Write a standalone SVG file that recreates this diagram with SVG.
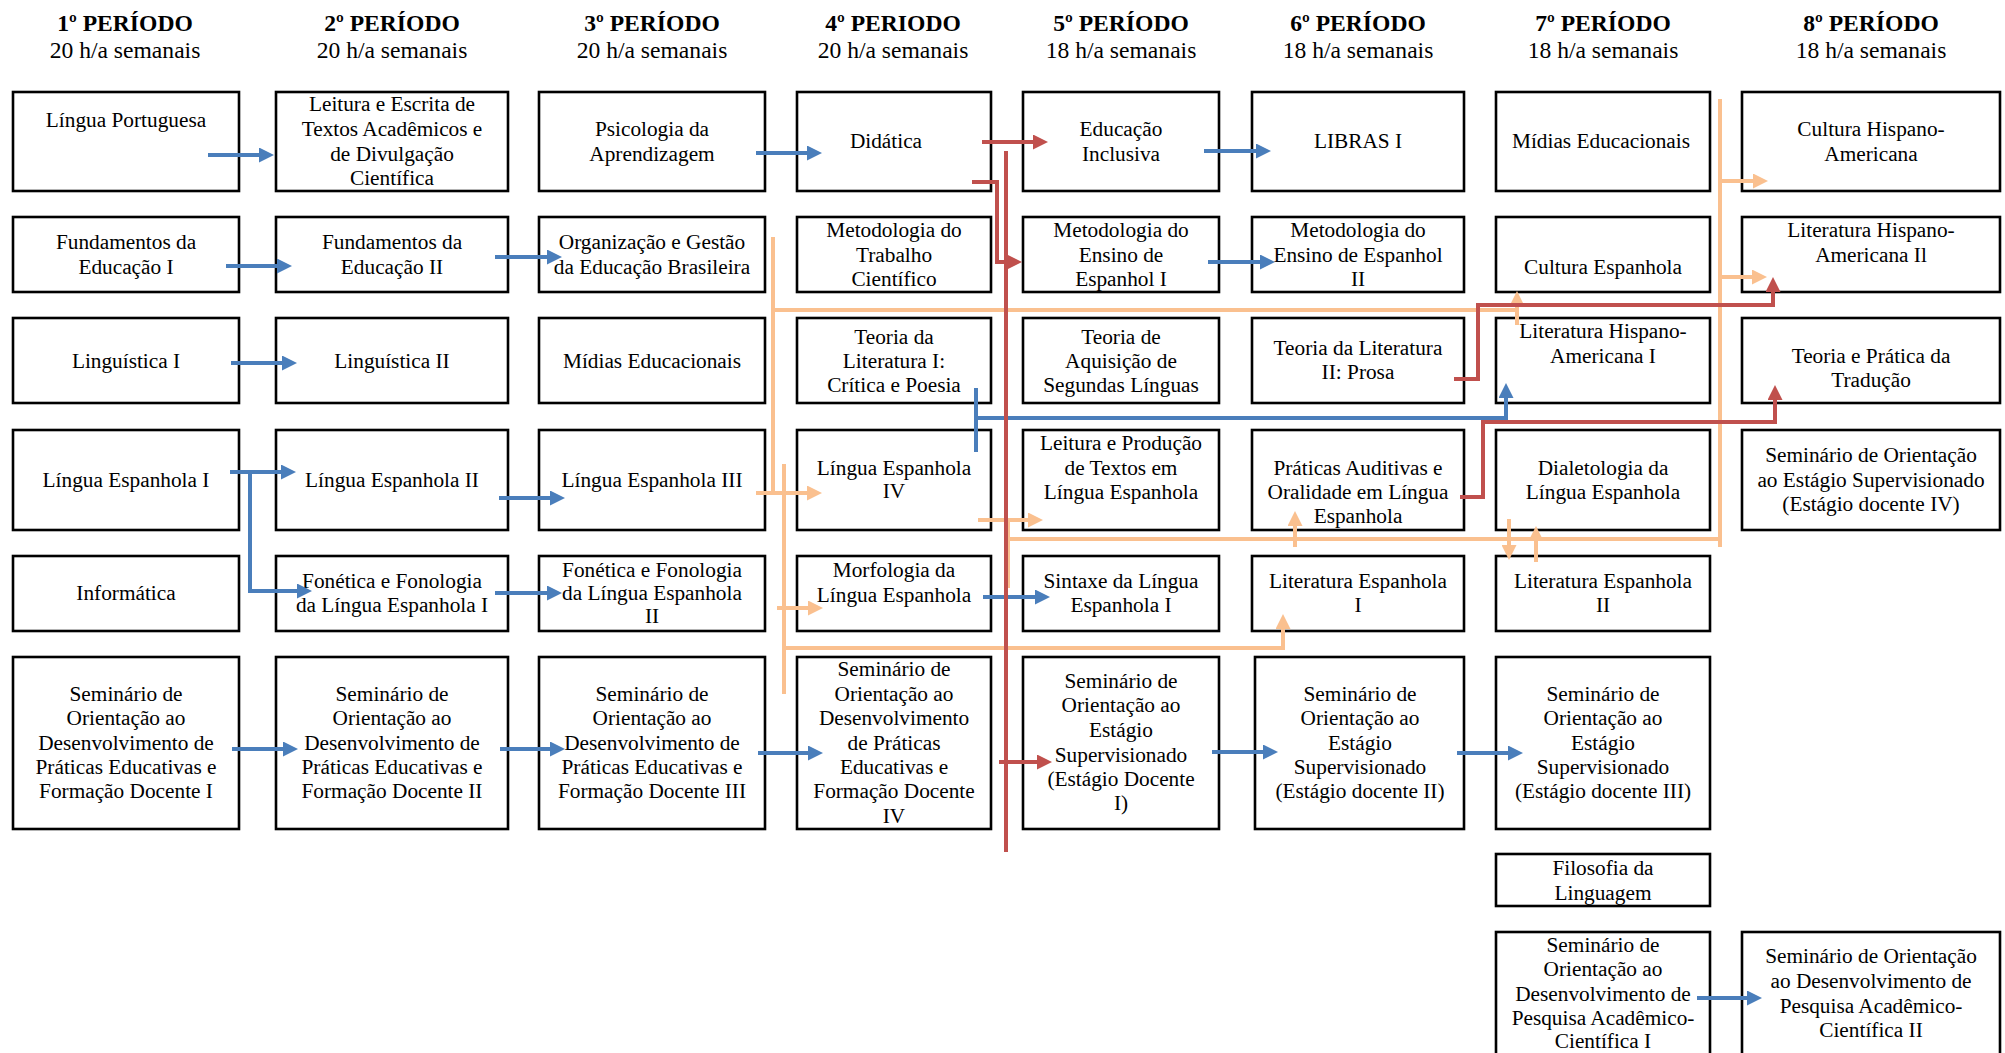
<svg xmlns="http://www.w3.org/2000/svg" width="2005" height="1053" viewBox="0 0 2005 1053">
<style>
text{font-family:"Liberation Serif","Times New Roman",serif;fill:#000}
.h{font-size:23.6px;font-weight:bold;text-anchor:middle}
.s{font-size:23.6px;text-anchor:middle}
.t{font-size:21.3px;text-anchor:middle}
.box{fill:#fff;stroke:#000;stroke-width:2.6}
.b{fill:none;stroke:#4A7EBB;stroke-width:4}
.r{fill:none;stroke:#C0504D;stroke-width:4}
.o{fill:none;stroke:#FAC08F;stroke-width:4}
.ba{marker-end:url(#mb)}
.ra{marker-end:url(#mr)}
.oa{marker-end:url(#mo)}
</style>
<defs>
<marker id="mb" markerUnits="userSpaceOnUse" markerWidth="15" markerHeight="15" viewBox="0 0 15 15" refX="4" refY="7.5" orient="auto"><path d="M0,0L15,7.5L0,15z" fill="#4A7EBB"/></marker>
<marker id="mr" markerUnits="userSpaceOnUse" markerWidth="15" markerHeight="15" viewBox="0 0 15 15" refX="4" refY="7.5" orient="auto"><path d="M0,0L15,7.5L0,15z" fill="#C0504D"/></marker>
<marker id="mo" markerUnits="userSpaceOnUse" markerWidth="15" markerHeight="15" viewBox="0 0 15 15" refX="4" refY="7.5" orient="auto"><path d="M0,0L15,7.5L0,15z" fill="#FAC08F"/></marker>
</defs>
<rect width="2005" height="1053" fill="#fff"/>
<g id="headers">
<text class="h" x="125" y="31">1º PERÍODO</text><text class="s" x="125" y="58">20 h/a semanais</text>
<text class="h" x="392" y="31">2º PERÍODO</text><text class="s" x="392" y="58">20 h/a semanais</text>
<text class="h" x="652" y="31">3º PERÍODO</text><text class="s" x="652" y="58">20 h/a semanais</text>
<text class="h" x="893" y="31">4º PERIODO</text><text class="s" x="893" y="58">20 h/a semanais</text>
<text class="h" x="1121" y="31">5º PERÍODO</text><text class="s" x="1121" y="58">18 h/a semanais</text>
<text class="h" x="1358" y="31">6º PERÍODO</text><text class="s" x="1358" y="58">18 h/a semanais</text>
<text class="h" x="1603" y="31">7º PERÍODO</text><text class="s" x="1603" y="58">18 h/a semanais</text>
<text class="h" x="1871" y="31">8º PERÍODO</text><text class="s" x="1871" y="58">18 h/a semanais</text>
</g>
<g id="nodes">
<!-- Row 1 -->
<g id="n-lp"><rect class="box" x="13" y="92" width="226" height="99"/><text class="t" x="126" y="127">Língua Portuguesa</text></g>
<g id="n-leitura"><rect class="box" x="276" y="92" width="232" height="99"/><text class="t"><tspan x="392" y="111">Leitura e Escrita de</tspan><tspan x="392" y="136">Textos Acadêmicos e</tspan><tspan x="392" y="161">de Divulgação</tspan><tspan x="392" y="185">Científica</tspan></text></g>
<g id="n-psico"><rect class="box" x="539" y="92" width="226" height="99"/><text class="t"><tspan x="652" y="136">Psicologia da</tspan><tspan x="652" y="161">Aprendizagem</tspan></text></g>
<g id="n-didatica"><rect class="box" x="797" y="92" width="194" height="99"/><text class="t" x="886" y="148">Didática</text></g>
<g id="n-edinc"><rect class="box" x="1023" y="92" width="196" height="99"/><text class="t"><tspan x="1121" y="136">Educação</tspan><tspan x="1121" y="161">Inclusiva</tspan></text></g>
<g id="n-libras"><rect class="box" x="1252" y="92" width="212" height="99"/><text class="t" x="1358" y="148">LIBRAS I</text></g>
<g id="n-midias7"><rect class="box" x="1496" y="92" width="214" height="99"/><text class="t" x="1601" y="148">Mídias Educacionais</text></g>
<g id="n-culthisp"><rect class="box" x="1742" y="92" width="258" height="99"/><text class="t"><tspan x="1871" y="136">Cultura Hispano-</tspan><tspan x="1871" y="161">Americana</tspan></text></g>
<!-- Row 2 -->
<g id="n-fund1"><rect class="box" x="13" y="217" width="226" height="75"/><text class="t"><tspan x="126" y="249">Fundamentos da</tspan><tspan x="126" y="274">Educação I</tspan></text></g>
<g id="n-fund2"><rect class="box" x="276" y="217" width="232" height="75"/><text class="t"><tspan x="392" y="249">Fundamentos da</tspan><tspan x="392" y="274">Educação II</tspan></text></g>
<g id="n-org"><rect class="box" x="539" y="217" width="226" height="75"/><text class="t"><tspan x="652" y="249">Organização e Gestão</tspan><tspan x="652" y="274">da Educação Brasileira</tspan></text></g>
<g id="n-mtc"><rect class="box" x="797" y="217" width="194" height="75"/><text class="t"><tspan x="894" y="237">Metodologia do</tspan><tspan x="894" y="262">Trabalho</tspan><tspan x="894" y="286">Científico</tspan></text></g>
<g id="n-mee1"><rect class="box" x="1023" y="217" width="196" height="75"/><text class="t"><tspan x="1121" y="237">Metodologia do</tspan><tspan x="1121" y="262">Ensino de</tspan><tspan x="1121" y="286">Espanhol I</tspan></text></g>
<g id="n-mee2"><rect class="box" x="1252" y="217" width="212" height="75"/><text class="t"><tspan x="1358" y="237">Metodologia do</tspan><tspan x="1358" y="262">Ensino de Espanhol</tspan><tspan x="1358" y="286">II</tspan></text></g>
<g id="n-cultesp"><rect class="box" x="1496" y="217" width="214" height="75"/><text class="t" x="1603" y="274">Cultura Espanhola</text></g>
<g id="n-lithisp2"><rect class="box" x="1742" y="217" width="258" height="75"/><text class="t"><tspan x="1871" y="237">Literatura Hispano-</tspan><tspan x="1871" y="262">Americana Il</tspan></text></g>
<!-- Row 3 -->
<g id="n-ling1"><rect class="box" x="13" y="318" width="226" height="85"/><text class="t" x="126" y="368">Linguística I</text></g>
<g id="n-ling2"><rect class="box" x="276" y="318" width="232" height="85"/><text class="t" x="392" y="368">Linguística II</text></g>
<g id="n-midias3"><rect class="box" x="539" y="318" width="226" height="85"/><text class="t" x="652" y="368">Mídias Educacionais</text></g>
<g id="n-tl1"><rect class="box" x="797" y="318" width="194" height="85"/><text class="t"><tspan x="894" y="344">Teoria da</tspan><tspan x="894" y="368">Literatura I:</tspan><tspan x="894" y="392">Crítica e Poesia</tspan></text></g>
<g id="n-tasl"><rect class="box" x="1023" y="318" width="196" height="85"/><text class="t"><tspan x="1121" y="344">Teoria de</tspan><tspan x="1121" y="368">Aquisição de</tspan><tspan x="1121" y="392">Segundas Línguas</tspan></text></g>
<g id="n-tl2"><rect class="box" x="1252" y="318" width="212" height="85"/><text class="t"><tspan x="1358" y="355">Teoria da Literatura</tspan><tspan x="1358" y="379">II: Prosa</tspan></text></g>
<g id="n-lithisp1"><rect class="box" x="1496" y="318" width="214" height="85"/><text class="t"><tspan x="1603" y="338">Literatura Hispano-</tspan><tspan x="1603" y="363">Americana I</tspan></text></g>
<g id="n-trad"><rect class="box" x="1742" y="318" width="258" height="85"/><text class="t"><tspan x="1871" y="363">Teoria e Prática da</tspan><tspan x="1871" y="387">Tradução</tspan></text></g>
<!-- Row 4 -->
<g id="n-le1"><rect class="box" x="13" y="430" width="226" height="100"/><text class="t" x="126" y="487">Língua Espanhola I</text></g>
<g id="n-le2"><rect class="box" x="276" y="430" width="232" height="100"/><text class="t" x="392" y="487">Língua Espanhola II</text></g>
<g id="n-le3"><rect class="box" x="539" y="430" width="226" height="100"/><text class="t" x="652" y="487">Língua Espanhola III</text></g>
<g id="n-le4"><rect class="box" x="797" y="430" width="194" height="100"/><text class="t"><tspan x="894" y="475">Língua Espanhola</tspan><tspan x="894" y="498">IV</tspan></text></g>
<g id="n-lpt"><rect class="box" x="1023" y="430" width="196" height="100"/><text class="t"><tspan x="1121" y="450">Leitura e Produção</tspan><tspan x="1121" y="475">de Textos em</tspan><tspan x="1121" y="499">Língua Espanhola</tspan></text></g>
<g id="n-pao"><rect class="box" x="1252" y="430" width="212" height="100"/><text class="t"><tspan x="1358" y="475">Práticas Auditivas e</tspan><tspan x="1358" y="499">Oralidade em Língua</tspan><tspan x="1358" y="523">Espanhola</tspan></text></g>
<g id="n-dial"><rect class="box" x="1496" y="430" width="214" height="100"/><text class="t"><tspan x="1603" y="475">Dialetologia da</tspan><tspan x="1603" y="499">Língua Espanhola</tspan></text></g>
<g id="n-ses4"><rect class="box" x="1742" y="430" width="258" height="100"/><text class="t"><tspan x="1871" y="462">Seminário de Orientação</tspan><tspan x="1871" y="487">ao Estágio Supervisionado</tspan><tspan x="1871" y="511">(Estágio docente IV)</tspan></text></g>
<!-- Row 5 -->
<g id="n-info"><rect class="box" x="13" y="556" width="226" height="75"/><text class="t" x="126" y="600">Informática</text></g>
<g id="n-fon1"><rect class="box" x="276" y="556" width="232" height="75"/><text class="t"><tspan x="392" y="588">Fonética e Fonologia</tspan><tspan x="392" y="612">da Língua Espanhola I</tspan></text></g>
<g id="n-fon2"><rect class="box" x="539" y="556" width="226" height="75"/><text class="t"><tspan x="652" y="577">Fonética e Fonologia</tspan><tspan x="652" y="600">da Língua Espanhola</tspan><tspan x="652" y="623">II</tspan></text></g>
<g id="n-morf"><rect class="box" x="797" y="556" width="194" height="75"/><text class="t"><tspan x="894" y="577">Morfologia da</tspan><tspan x="894" y="602">Língua Espanhola</tspan></text></g>
<g id="n-sint"><rect class="box" x="1023" y="556" width="196" height="75"/><text class="t"><tspan x="1121" y="588">Sintaxe da Língua</tspan><tspan x="1121" y="612">Espanhola I</tspan></text></g>
<g id="n-litesp1"><rect class="box" x="1252" y="556" width="212" height="75"/><text class="t"><tspan x="1358" y="588">Literatura Espanhola</tspan><tspan x="1358" y="612">I</tspan></text></g>
<g id="n-litesp2"><rect class="box" x="1496" y="556" width="214" height="75"/><text class="t"><tspan x="1603" y="588">Literatura Espanhola</tspan><tspan x="1603" y="612">II</tspan></text></g>
<!-- Row 6 -->
<g id="n-sem1"><rect class="box" x="13" y="657" width="226" height="172"/><text class="t"><tspan x="126" y="701">Seminário de</tspan><tspan x="126" y="725">Orientação ao</tspan><tspan x="126" y="750">Desenvolvimento de</tspan><tspan x="126" y="774">Práticas Educativas e</tspan><tspan x="126" y="798">Formação Docente I</tspan></text></g>
<g id="n-sem2"><rect class="box" x="276" y="657" width="232" height="172"/><text class="t"><tspan x="392" y="701">Seminário de</tspan><tspan x="392" y="725">Orientação ao</tspan><tspan x="392" y="750">Desenvolvimento de</tspan><tspan x="392" y="774">Práticas Educativas e</tspan><tspan x="392" y="798">Formação Docente II</tspan></text></g>
<g id="n-sem3"><rect class="box" x="539" y="657" width="226" height="172"/><text class="t"><tspan x="652" y="701">Seminário de</tspan><tspan x="652" y="725">Orientação ao</tspan><tspan x="652" y="750">Desenvolvimento de</tspan><tspan x="652" y="774">Práticas Educativas e</tspan><tspan x="652" y="798">Formação Docente III</tspan></text></g>
<g id="n-sem4"><rect class="box" x="797" y="657" width="194" height="172"/><text class="t"><tspan x="894" y="676">Seminário de</tspan><tspan x="894" y="701">Orientação ao</tspan><tspan x="894" y="725">Desenvolvimento</tspan><tspan x="894" y="750">de Práticas</tspan><tspan x="894" y="774">Educativas e</tspan><tspan x="894" y="798">Formação Docente</tspan><tspan x="894" y="823">IV</tspan></text></g>
<g id="n-est1"><rect class="box" x="1023" y="657" width="196" height="172"/><text class="t"><tspan x="1121" y="688">Seminário de</tspan><tspan x="1121" y="712">Orientação ao</tspan><tspan x="1121" y="737">Estágio</tspan><tspan x="1121" y="762">Supervisionado</tspan><tspan x="1121" y="786">(Estágio Docente</tspan><tspan x="1121" y="810">I)</tspan></text></g>
<g id="n-est2"><rect class="box" x="1255" y="657" width="209" height="172"/><text class="t"><tspan x="1360" y="701">Seminário de</tspan><tspan x="1360" y="725">Orientação ao</tspan><tspan x="1360" y="750">Estágio</tspan><tspan x="1360" y="774">Supervisionado</tspan><tspan x="1360" y="798">(Estágio docente II)</tspan></text></g>
<g id="n-est3"><rect class="box" x="1496" y="657" width="214" height="172"/><text class="t"><tspan x="1603" y="701">Seminário de</tspan><tspan x="1603" y="725">Orientação ao</tspan><tspan x="1603" y="750">Estágio</tspan><tspan x="1603" y="774">Supervisionado</tspan><tspan x="1603" y="798">(Estágio docente III)</tspan></text></g>
<!-- Rows 7-8 -->
<g id="n-filo"><rect class="box" x="1496" y="854" width="214" height="52"/><text class="t"><tspan x="1603" y="875">Filosofia da</tspan><tspan x="1603" y="900">Linguagem</tspan></text></g>
<g id="n-pesq1"><rect class="box" x="1496" y="932" width="214" height="130"/><text class="t"><tspan x="1603" y="952">Seminário de</tspan><tspan x="1603" y="976">Orientação ao</tspan><tspan x="1603" y="1001">Desenvolvimento de</tspan><tspan x="1603" y="1025">Pesquisa Acadêmico-</tspan><tspan x="1603" y="1048">Científica I</tspan></text></g>
<g id="n-pesq2"><rect class="box" x="1742" y="932" width="258" height="130"/><text class="t"><tspan x="1871" y="963">Seminário de Orientação</tspan><tspan x="1871" y="988">ao Desenvolvimento de</tspan><tspan x="1871" y="1013">Pesquisa Acadêmico-</tspan><tspan x="1871" y="1037">Científica II</tspan></text></g>
</g>
<g id="connectors">
<!-- orange -->
<path class="o oa" d="M756,493H811"/>
<path class="o" d="M773,237V493"/>
<path class="o oa" d="M773,310H1517V302"/>
<path class="o" d="M1517,310V325"/>
<path class="o" d="M784,464V694"/>
<path class="o oa" d="M777,608H812"/>
<path class="o oa" d="M784,648H1283V625"/>
<path class="o oa" d="M978,520H1032"/>
<path class="o" d="M1008,520V588M1008,539H1720"/>
<path class="o oa" d="M1295,547V522"/>
<path class="o oa" d="M1509,519V549"/>
<path class="o oa" d="M1536,562V537"/>
<path class="o" d="M1720,99V547"/>
<path class="o oa" d="M1720,181H1757"/>
<path class="o oa" d="M1720,277H1756"/>
<!-- blue -->
<path class="b ba" d="M208,155H263"/>
<path class="b ba" d="M226,266H281"/>
<path class="b ba" d="M495,257H551"/>
<path class="b ba" d="M756,153H811"/>
<path class="b ba" d="M1204,151H1260"/>
<path class="b ba" d="M1208,262H1264"/>
<path class="b ba" d="M231,363H286"/>
<path class="b ba" d="M230,472H285"/>
<path class="b ba" d="M250,472V591H301"/>
<path class="b ba" d="M499,498H554"/>
<path class="b ba" d="M495,593H551"/>
<path class="b ba" d="M983,597H1039"/>
<path class="b ba" d="M232,749H287"/>
<path class="b ba" d="M500,749H554"/>
<path class="b ba" d="M758,753H812"/>
<path class="b ba" d="M1212,752H1267"/>
<path class="b ba" d="M1457,753H1512"/>
<path class="b ba" d="M1697,998H1751"/>
<path class="b" d="M976,388V452"/>
<path class="b ba" d="M976,418H1506V394"/>
<!-- red -->
<path class="r ra" d="M982,142H1037"/>
<path class="r" d="M1006,151V852"/>
<path class="r ra" d="M972,182H997V262H1011"/>
<path class="r ra" d="M999,762H1041"/>
<path class="r ra" d="M1454,379H1478V305H1773V288"/>
<path class="r ra" d="M1460,497H1483V422H1775V396"/>
</g>
</svg>
